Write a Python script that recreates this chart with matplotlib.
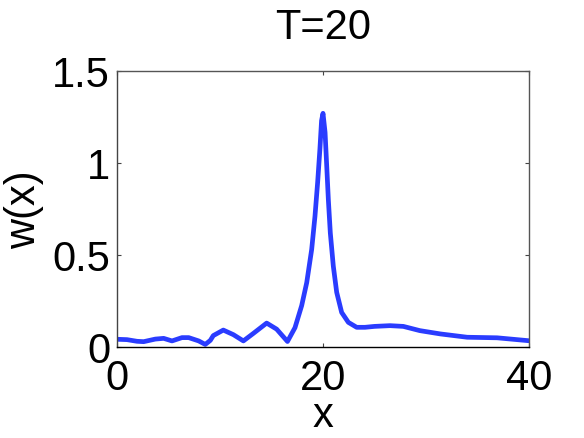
import matplotlib
matplotlib.use("Agg")
import matplotlib.pyplot as plt

x_vals = [0, 0.97, 1.94, 2.59, 3.72, 4.53, 5.34, 6.31, 6.96, 7.93, 8.57, 9.06,
          9.35, 10.32, 11.3, 12.27, 13.24, 14.53, 15.5, 16.55, 17.28, 17.93,
          18.42, 18.9, 19.22, 19.48, 19.7, 19.86, 20.0, 20.2, 20.36, 20.52,
          20.71, 21.0, 21.33, 21.81, 22.46, 23.27, 24.08, 25.0, 26.5, 27.8,
          29.4, 31.4, 34.0, 36.9, 40.0]
w_vals = [0.042, 0.04, 0.031, 0.029, 0.043, 0.047, 0.033, 0.051, 0.051, 0.033,
          0.014, 0.036, 0.062, 0.092, 0.067, 0.033, 0.074, 0.13, 0.097, 0.03,
          0.105, 0.225, 0.35, 0.53, 0.71, 0.895, 1.076, 1.23, 1.27, 1.167,
          0.985, 0.80, 0.62, 0.44, 0.297, 0.188, 0.134, 0.107, 0.107, 0.112,
          0.116, 0.112, 0.089, 0.071, 0.053, 0.05, 0.034]
x_ticks = [0, 20, 40]
y_ticks = [0, 0.5, 1, 1.5]
y_ticklabels = ["0", "0.5", "1", "1.5"]

plt.rcParams['font.family'] = ['Liberation Sans', 'DejaVu Sans']

fig = plt.figure(figsize=(5.84, 4.39), dpi=100)
ax = fig.add_axes([117/584, 1-348/439, 412/584, 276/439])
ax.plot(x_vals, w_vals, color='#2a3cff', lw=3.4, solid_capstyle='round',
        solid_joinstyle='round')
ax.set_xlim(0, 40)
ax.set_ylim(0, 1.5)
ax.set_xticks(x_ticks)
ax.set_xticklabels([str(t) for t in x_ticks])
ax.set_yticks(y_ticks)
ax.set_yticklabels(y_ticklabels)
ax.tick_params(direction='in', length=3, width=0.8, colors='#444444',
               top=True, right=True, labelsize=30, labelcolor='black')
ax.tick_params(axis='x', pad=8)
ax.tick_params(axis='y', pad=5)
for s in ax.spines.values():
    s.set_color('#555555')
    s.set_linewidth(1.0)
ax.spines['bottom'].set_color('black')
ax.spines['left'].set_color('#444444')
ax.set_xlabel('x', fontsize=30, labelpad=-2)
ax.set_ylabel('w(x)', fontsize=30, labelpad=6)
ax.set_title('T=20', fontsize=30, pad=24)
fig.savefig('out.png', dpi=100)
